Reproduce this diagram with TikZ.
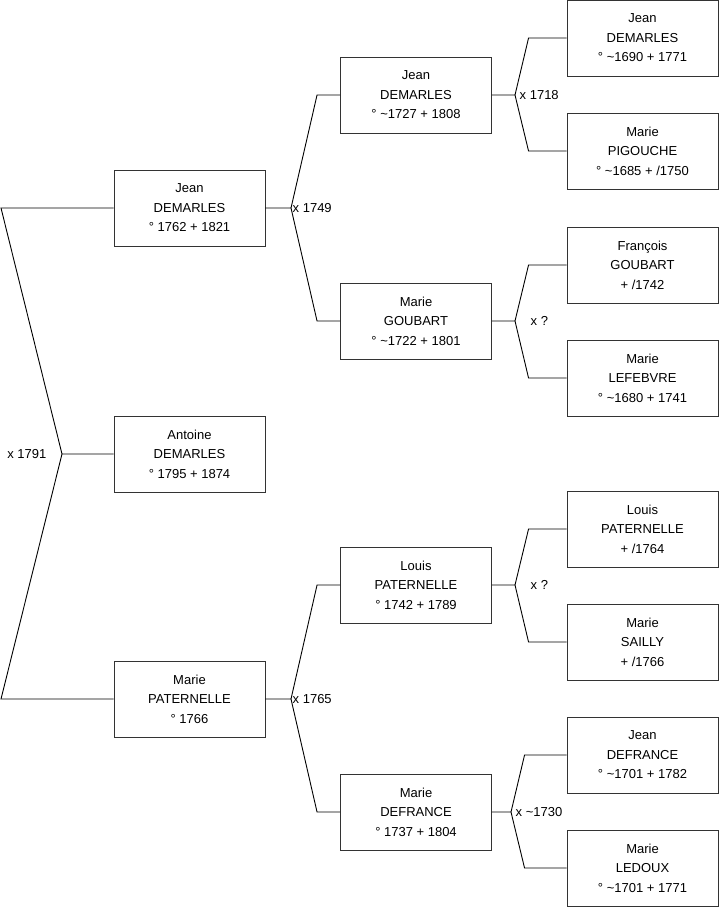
\documentclass[tikz,border=0pt]{standalone}
\usepackage{fontspec}
\setmainfont{Liberation Sans}
\usetikzlibrary{positioning}
\begin{document}
\begin{tikzpicture}[x=1pt, y=-1pt, every node/.style={font=\fontsize{13}{19.5}\selectfont},
  person/.style={draw=black!80, line width=0.9pt, minimum width=151pt, minimum height=76pt, align=center, inner sep=0pt},
  link/.style={line width=0.9pt},
  mar/.style={anchor=west, inner sep=1.5pt}]
\useasboundingbox (0,0) rectangle (719,908);
% generation 1
\node[person] (p2) at (189.5,208) {Jean\\DEMARLES\\° 1762 + 1821};
\node[person] (p1) at (189.5,454) {Antoine\\DEMARLES\\° 1795 + 1874};
\node[person] (p3) at (189.5,699) {Marie\\PATERNELLE\\° 1766};
% generation 2
\node[person] (p4) at (416,95) {Jean\\DEMARLES\\° \textasciitilde1727 + 1808};
\node[person] (p5) at (416,321) {Marie\\GOUBART\\° \textasciitilde1722 + 1801};
\node[person] (p6) at (416,585) {Louis\\PATERNELLE\\° 1742 + 1789};
\node[person] (p7) at (416,812) {Marie\\DEFRANCE\\° 1737 + 1804};
% generation 3
\node[person] (p8) at (642.5,38) {Jean\\DEMARLES\\° \textasciitilde1690 + 1771};
\node[person] (p9) at (642.5,151) {Marie\\PIGOUCHE\\° \textasciitilde1685 + /1750};
\node[person] (p10) at (642.5,265) {François\\GOUBART\\+ /1742};
\node[person] (p11) at (642.5,378) {Marie\\LEFEBVRE\\° \textasciitilde1680 + 1741};
\node[person] (p12) at (642.5,529) {Louis\\PATERNELLE\\+ /1764};
\node[person] (p13) at (642.5,642) {Marie\\SAILLY\\+ /1766};
\node[person] (p14) at (642.5,755) {Jean\\DEFRANCE\\° \textasciitilde1701 + 1782};
\node[person] (p15) at (642.5,868) {Marie\\LEDOUX\\° \textasciitilde1701 + 1771};
% marriages
\coordinate (m1) at (62,454);
\coordinate (m1a) at (1,208);
\coordinate (m1b) at (1,699);
\draw[link] (p2.west) -- (m1a) -- (m1) -- (p1.west);
\draw[link] (m1) -- (m1b) -- (p3.west);
\node[mar, anchor=east, xshift=-14pt] at (m1) {x 1791};

\coordinate (m2) at (291,208);
\draw[link] (p2.east) -- (m2) -- ([xshift=-23pt]p4.west) -- (p4.west);
\draw[link] (m2) -- ([xshift=-23pt]p5.west) -- (p5.west);
\node[mar] at (m2) {x 1749};

\coordinate (m3) at (291,699);
\draw[link] (p3.east) -- (m3) -- ([xshift=-23pt]p6.west) -- (p6.west);
\draw[link] (m3) -- ([xshift=-23pt]p7.west) -- (p7.west);
\node[mar] at (m3) {x 1765};

\coordinate (m4) at (515,95);
\draw[link] (p4.east) -- (m4) -- ([xshift=-38pt]p8.west) -- (p8.west);
\draw[link] (m4) -- ([xshift=-38pt]p9.west) -- (p9.west);
\node[mar, xshift=3pt] at (m4) {x 1718};

\coordinate (m5) at (515,321);
\draw[link] (p5.east) -- (m5) -- ([xshift=-38pt]p10.west) -- (p10.west);
\draw[link] (m5) -- ([xshift=-38pt]p11.west) -- (p11.west);
\node[mar, xshift=14pt] at (m5) {x ?};

\coordinate (m6) at (515,585);
\draw[link] (p6.east) -- (m6) -- ([xshift=-38pt]p12.west) -- (p12.west);
\draw[link] (m6) -- ([xshift=-38pt]p13.west) -- (p13.west);
\node[mar, xshift=14pt] at (m6) {x ?};

\coordinate (m7) at (511,812);
\draw[link] (p7.east) -- (m7) -- ([xshift=-42pt]p14.west) -- (p14.west);
\draw[link] (m7) -- ([xshift=-42pt]p15.west) -- (p15.west);
\node[mar, xshift=3pt] at (m7) {x \textasciitilde1730};
\end{tikzpicture}
\end{document}
